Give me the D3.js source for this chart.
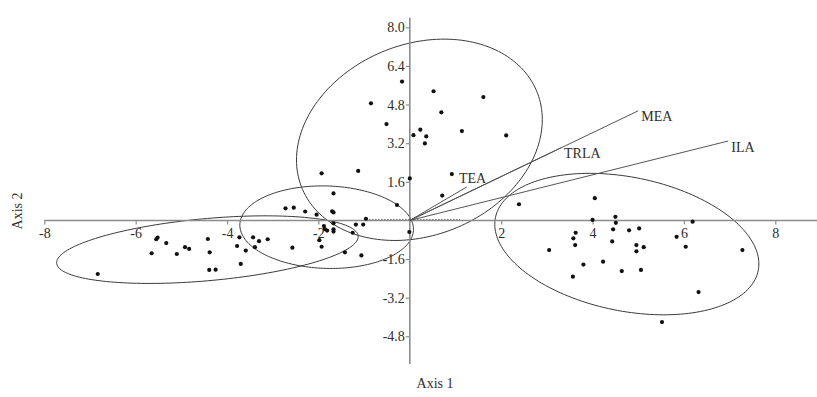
<!DOCTYPE html>
<html><head><meta charset="utf-8">
<script src="https://cdn.jsdelivr.net/npm/d3@7"></script>
<style>
html,body{margin:0;padding:0;background:#fff;}
svg{display:block;}
text{font-family:"Liberation Serif","Times New Roman",serif;}
</style></head>
<body><svg id="chart" width="817" height="397"></svg>
<script>
// ---- data ----
const xTicks = [-8, -6, -4, -2, 2, 4, 6, 8];
const yTicks = [-4.8, -3.2, -1.6, 1.6, 3.2, 4.8, 6.4, 8.0];
const xTitle = "Axis 1";
const yTitle = "Axis 2";

const groupTop = [[-0.17,5.75],[-0.85,4.85],[0.52,5.35],[1.61,5.11],[0.69,4.48],[-0.51,3.99],[0.23,3.76],[0.08,3.53],[0.36,3.48],[0.33,3.19],[1.14,3.70],[2.11,3.52],[-1.93,1.95],[-1.13,2.05],[0.00,1.74],[0.92,1.92],[0.71,1.03],[-1.67,1.12],[-0.28,0.64]];
const groupMid = [[-2.72,0.50],[-2.54,0.53],[-2.29,0.37],[-2.04,0.24],[-1.70,0.38],[-1.67,0.33],[-0.96,0.07],[-1.18,-0.17],[-1.02,-0.17],[-1.25,-0.51],[-1.88,-0.23],[-1.86,-0.36],[-1.81,-0.42],[-1.67,-0.12],[-1.67,-0.37],[-1.67,-0.46],[-1.98,-0.82],[-1.93,-1.09],[-1.42,-1.32],[-1.06,-1.45],[-0.01,-0.48],[-2.57,-1.13],[-3.11,-0.78],[-3.30,-0.86],[-3.43,-0.70],[-3.39,-1.11],[-3.59,-1.25],[-3.73,-0.70],[-3.78,-1.06],[-3.70,-1.80]];
const groupLeft = [[-4.42,-0.77],[-4.38,-1.32],[-4.39,-2.05],[-4.25,-2.04],[-4.92,-1.11],[-4.83,-1.18],[-5.10,-1.39],[-5.33,-0.94],[-5.55,-0.78],[-5.52,-0.71],[-5.65,-1.36],[-6.83,-2.22]];
const groupRight = [[2.39,0.67],[4.05,0.92],[4.00,0.02],[4.50,0.15],[4.51,-0.10],[6.19,-0.05],[3.63,-0.51],[3.58,-0.74],[3.62,-1.02],[3.05,-1.23],[4.45,-0.37],[4.80,-0.41],[5.02,-0.33],[4.43,-0.87],[4.96,-1.02],[4.96,-1.28],[5.12,-1.11],[5.84,-0.68],[6.04,-1.09],[7.28,-1.23],[3.80,-1.83],[4.23,-1.71],[4.64,-2.10],[5.06,-2.05],[3.57,-2.33],[6.32,-2.97],[5.52,-4.21]];

// ellipses: centre (cx, cy), half-extent along x and y (sx, sy), correlation r
const ellipseCx = [0.21, -1.82, -4.43, 4.75];
const ellipseCy = [3.34, -0.28, -1.21, -0.98];
const ellipseSx = [2.69, 1.90, 3.30, 2.89];
const ellipseSy = [4.17, 1.71, 1.40, 2.93];
const ellipseR  = [0.20, -0.05, 0.386, -0.28];

// vectors
const vecNames = ["MEA", "ILA", "TRLA", "TEA"];
const vecX = [5.00, 6.97, 3.31, 1.25];
const vecY = [4.54, 3.29, 3.01, 1.39];

// ---- drawing ----
const svg = d3.select("#chart");
const x = d3.scaleLinear().domain([-8, 8]).range([44.3, 775.3]);
const y = d3.scaleLinear().domain([8, -4.8]).range([27.3, 336.3]);

const axisColor = "#8c8c8c";
const textColor = "#2e2e2e";
const fontSize = "14px";

// ellipses
const ellipseData = ellipseCx.map((cx, i) => ({cx, cy: ellipseCy[i], sx: ellipseSx[i], sy: ellipseSy[i], r: ellipseR[i]}));
const line = d3.line().x(d => x(d[0])).y(d => y(d[1])).curve(d3.curveLinearClosed);
svg.append("g").selectAll("path").data(ellipseData).join("path")
  .attr("d", e => {
    const pts = d3.range(0, 360, 2).map(a => {
      const t = a * Math.PI / 180;
      return [e.cx + e.sx * Math.cos(t), e.cy + e.sy * (e.r * Math.cos(t) + Math.sqrt(1 - e.r * e.r) * Math.sin(t))];
    });
    return line(pts);
  })
  .attr("fill", "none").attr("stroke", "#3a3a3a").attr("stroke-width", 1);

// axes lines
svg.append("line").attr("x1", x(-8)).attr("x2", 817).attr("y1", y(0)).attr("y2", y(0))
  .attr("stroke", axisColor).attr("stroke-width", 1.6);
svg.append("line").attr("x1", x(0)).attr("x2", x(0)).attr("y1", y(8.4)).attr("y2", y(-5.95))
  .attr("stroke", axisColor).attr("stroke-width", 1.6);

const gx = svg.append("g").attr("transform", `translate(0,${y(0)})`)
  .call(d3.axisBottom(x).tickValues(xTicks).tickSize(4).tickPadding(4).tickFormat(d3.format("d")));
const gy = svg.append("g").attr("transform", `translate(${x(0)},0)`)
  .call(d3.axisLeft(y).tickValues(yTicks).tickSize(4).tickPadding(1).tickFormat(d3.format(".1f")));
[gx, gy].forEach(g => {
  g.select(".domain").remove();
  g.selectAll(".tick line").attr("stroke", axisColor).attr("stroke-width", 1.2);
  g.selectAll(".tick text").attr("fill", textColor).style("font-size", fontSize)
    .style("font-family", '"Liberation Serif","Times New Roman",serif');
});
gx.selectAll(".tick text").text(d => d < 0 ? "-" + Math.abs(d) : d);
gy.selectAll(".tick text").text(d => (d < 0 ? "-" : "") + Math.abs(d).toFixed(1));

// dotted near-origin segment
svg.append("line").attr("x1", x(-0.95)).attr("x2", x(1.1)).attr("y1", y(0.04)).attr("y2", y(0.04))
  .attr("stroke", "#444").attr("stroke-width", 1).attr("stroke-dasharray", "1,2");

// vectors
const vecData = vecNames.map((n, i) => ({n, vx: vecX[i], vy: vecY[i]}));
svg.append("g").selectAll("line").data(vecData).join("line")
  .attr("x1", x(0)).attr("y1", y(0)).attr("x2", d => x(d.vx)).attr("y2", d => y(d.vy))
  .attr("stroke", "#555").attr("stroke-width", 1);
svg.append("g").selectAll("text").data(vecData).join("text")
  .attr("x", d => d.n === "TEA" ? x(d.vx) - 8 : x(d.vx) + 3)
  .attr("y", d => d.n === "TEA" ? y(d.vy) - 4 : y(d.vy) + 10.5)
  .attr("fill", textColor).style("font-size", fontSize).text(d => d.n);

// points
const allPts = [].concat(groupTop, groupMid, groupLeft, groupRight);
svg.append("g").selectAll("circle").data(allPts).join("circle")
  .attr("cx", d => x(d[0])).attr("cy", d => y(d[1])).attr("r", 2.1).attr("fill", "#111");

// titles
svg.append("text").attr("x", 435).attr("y", 388).attr("text-anchor", "middle")
  .attr("fill", textColor).style("font-size", fontSize).text(xTitle);
svg.append("text").attr("transform", "translate(22,211) rotate(-90)").attr("text-anchor", "middle")
  .attr("fill", textColor).style("font-size", fontSize).text(yTitle);
</script>
</body></html>
